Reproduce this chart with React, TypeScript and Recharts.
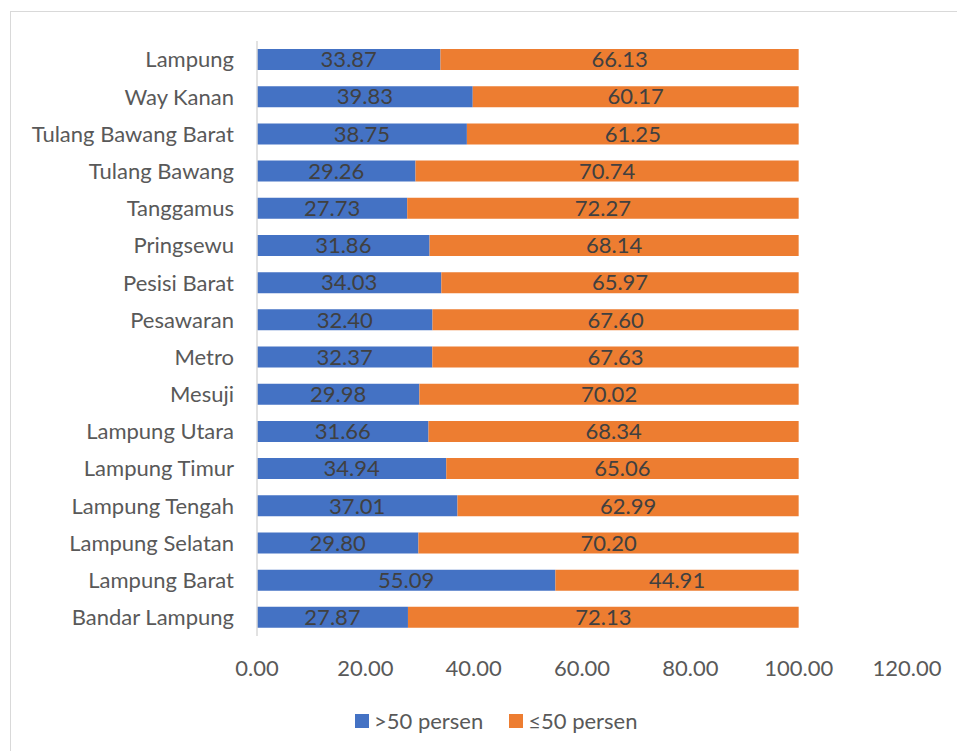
import React from 'react';
import { Bar, BarChart, XAxis, YAxis, Legend, LabelList } from 'recharts';

const regions = [
  'Lampung',
  'Way Kanan',
  'Tulang Bawang Barat',
  'Tulang Bawang',
  'Tanggamus',
  'Pringsewu',
  'Pesisi Barat',
  'Pesawaran',
  'Metro',
  'Mesuji',
  'Lampung Utara',
  'Lampung Timur',
  'Lampung Tengah',
  'Lampung Selatan',
  'Lampung Barat',
  'Bandar Lampung',
];

const above50 = [33.87, 39.83, 38.75, 29.26, 27.73, 31.86, 34.03, 32.4, 32.37, 29.98, 31.66, 34.94, 37.01, 29.8, 55.09, 27.87];
const upTo50 = [66.13, 60.17, 61.25, 70.74, 72.27, 68.14, 65.97, 67.6, 67.63, 70.02, 68.34, 65.06, 62.99, 70.2, 44.91, 72.13];

const xTicks = [0, 20, 40, 60, 80, 100, 120];

const data = regions.map((name, i) => ({ name, above: above50[i], below: upTo50[i] }));

const FONT = 'Lato, "Noto Sans", sans-serif';
const fmt = (v: any) => Number(v).toFixed(2);

const LegendContent = (props: any) => {
  const items = props.payload || [];
  return (
    <div style={{ display: 'flex', alignItems: 'center', marginLeft: 355, fontFamily: FONT, fontSize: 22, color: '#595959' }}>
      {items.map((it: any, i: number) => (
        <div key={i} style={{ display: 'flex', alignItems: 'center', marginRight: 26 }}>
          <span style={{ width: 14, height: 14, background: it.color, marginRight: 5, display: 'inline-block' }} />
          <span>{it.value}</span>
        </div>
      ))}
    </div>
  );
};

export default function App() {
  return (
    <div style={{ position: 'fixed', left: 0, top: 0, width: 957, height: 751, background: '#fff', overflow: 'hidden', fontFamily: FONT }}>
      <div style={{ position: 'absolute', left: 10, top: 11, width: 1000, height: 800, border: '1px solid #d9d9d9' }} />
      <div style={{ position: 'absolute', left: 0, top: 0 }}>
        <BarChart width={957} height={751} data={data} layout="vertical" margin={{ top: 41, right: 50, bottom: 17, left: 0 }} barSize={21}>
          <XAxis
            type="number"
            domain={[0, 120]}
            ticks={xTicks}
            interval={0}
            tickFormatter={fmt}
            axisLine={false}
            tickLine={false}
            tickSize={0}
            tickMargin={24}
            height={71}
            tick={{ fill: '#595959', fontSize: 22, fontFamily: FONT }}
          />
          <YAxis
            type="category"
            dataKey="name"
            width={257}
            interval={0}
            axisLine={{ stroke: '#d9d9d9', strokeWidth: 1.5 }}
            tickLine={false}
            tickSize={0}
            tickMargin={23}
            tick={{ fill: '#595959', fontSize: 22, fontFamily: FONT }}
          />
          <Legend verticalAlign="bottom" content={<LegendContent />} />
          <Bar dataKey="above" stackId="a" fill="#4472C4" name=">50 persen" isAnimationActive={false}>
            <LabelList dataKey="above" position="center" formatter={fmt} fill="#404040" fontSize={22} fontFamily={FONT} />
          </Bar>
          <Bar dataKey="below" stackId="a" fill="#ED7D31" name="≤50 persen" isAnimationActive={false}>
            <LabelList dataKey="below" position="center" formatter={fmt} fill="#404040" fontSize={22} fontFamily={FONT} />
          </Bar>
        </BarChart>
      </div>
    </div>
  );
}
